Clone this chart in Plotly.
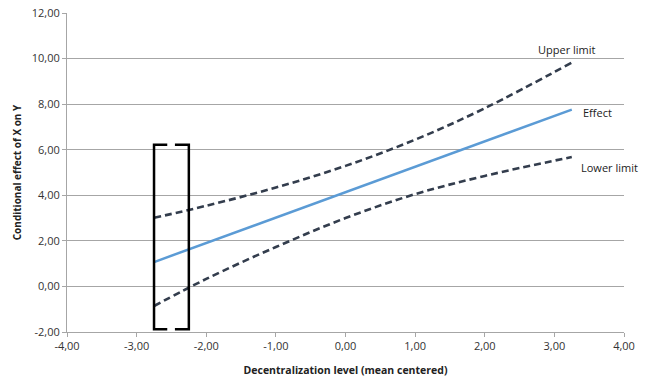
import plotly.graph_objects as go

# Data
effect_x = [-2.75, 3.25]
effect_y = [1.07, 7.76]

upper_x = [-2.75, -2.0, -1.0, 0.0, 1.0, 2.0, 3.25]
upper_y = [3.01, 3.54, 4.34, 5.29, 6.44, 7.82, 9.82]

lower_x = [-2.75, -2.0, -1.0, 0.0, 1.0, 2.0, 3.25]
lower_y = [-0.86, 0.33, 1.73, 3.00, 4.05, 4.85, 5.68]

bracket_left_x = [-2.56, -2.75, -2.75, -2.56]
bracket_right_x = [-2.45, -2.25, -2.25, -2.45]
bracket_y = [6.22, 6.22, -1.88, -1.88]

x_ticks = [-4, -3, -2, -1, 0, 1, 2, 3, 4]
y_ticks = [-2, 0, 2, 4, 6, 8, 10, 12]
x_ticktext = ["-4,00", "-3,00", "-2,00", "-1,00", "0,00", "1,00", "2,00", "3,00", "4,00"]
y_ticktext = ["-2,00", "0,00", "2,00", "4,00", "6,00", "8,00", "10,00", "12,00"]

labels = ["Upper limit", "Effect", "Lower limit"]
label_x = [2.74, 3.385, 3.35]
label_y = [10.4, 7.64, 5.21]

FONT = "Open Sans"
DASH_COLOR = "#333d4d"

fig = go.Figure()
fig.add_trace(go.Scatter(x=upper_x, y=upper_y, mode="lines",
                         line=dict(color=DASH_COLOR, width=2.6, dash="7px,4px", shape="spline", smoothing=1.0),
                         hoverinfo="skip"))
fig.add_trace(go.Scatter(x=lower_x, y=lower_y, mode="lines",
                         line=dict(color=DASH_COLOR, width=2.6, dash="7px,4px", shape="spline", smoothing=1.0),
                         hoverinfo="skip"))
fig.add_trace(go.Scatter(x=effect_x, y=effect_y, mode="lines",
                         line=dict(color="#5b9bd5", width=2.5), hoverinfo="skip"))
fig.add_trace(go.Scatter(x=bracket_left_x, y=bracket_y, mode="lines",
                         line=dict(color="#000000", width=2.5), hoverinfo="skip"))
fig.add_trace(go.Scatter(x=bracket_right_x, y=bracket_y, mode="lines",
                         line=dict(color="#000000", width=2.5), hoverinfo="skip"))

for t, lx, ly in zip(labels, label_x, label_y):
    fig.add_annotation(x=lx, y=ly, text=t, showarrow=False, xanchor="left", yanchor="middle",
                       font=dict(family=FONT, size=11, color="#222222"))

fig.update_layout(
    width=650, height=380,
    margin=dict(l=67, r=26, t=13, b=48, autoexpand=False),
    paper_bgcolor="white", plot_bgcolor="white",
    showlegend=False,
    font=dict(family=FONT, size=11, color="#333333"),
)
fig.update_xaxes(
    range=[-4, 4], tickvals=x_ticks, ticktext=x_ticktext,
    showgrid=False, zeroline=False, automargin=False,
    showline=True, linecolor="#a6a6a6", linewidth=1,
    ticks="outside", ticklen=4, tickcolor="#a6a6a6",
    tickfont=dict(family=FONT, size=11, color="#333333"),
    title=dict(text="<b>Decentralization level (mean centered)</b>",
               font=dict(family=FONT, size=10.5, color="#222222"), standoff=14),
)
fig.update_yaxes(
    range=[-2, 12], tickvals=y_ticks, ticktext=y_ticktext,
    showgrid=True, gridcolor="#a6a6a6", gridwidth=1, zeroline=False, automargin=False,
    showline=True, linecolor="#a6a6a6", linewidth=1,
    ticks="outside", ticklen=4, tickcolor="#a6a6a6",
    tickfont=dict(family=FONT, size=11, color="#333333"),
    title=dict(text="<b>Conditional effect of X on Y</b>",
               font=dict(family=FONT, size=10, color="#222222"), standoff=8),
)

fig.write_html("out.html", config={"displayModeBar": False},
               post_script="document.body.style.margin='0px';")
